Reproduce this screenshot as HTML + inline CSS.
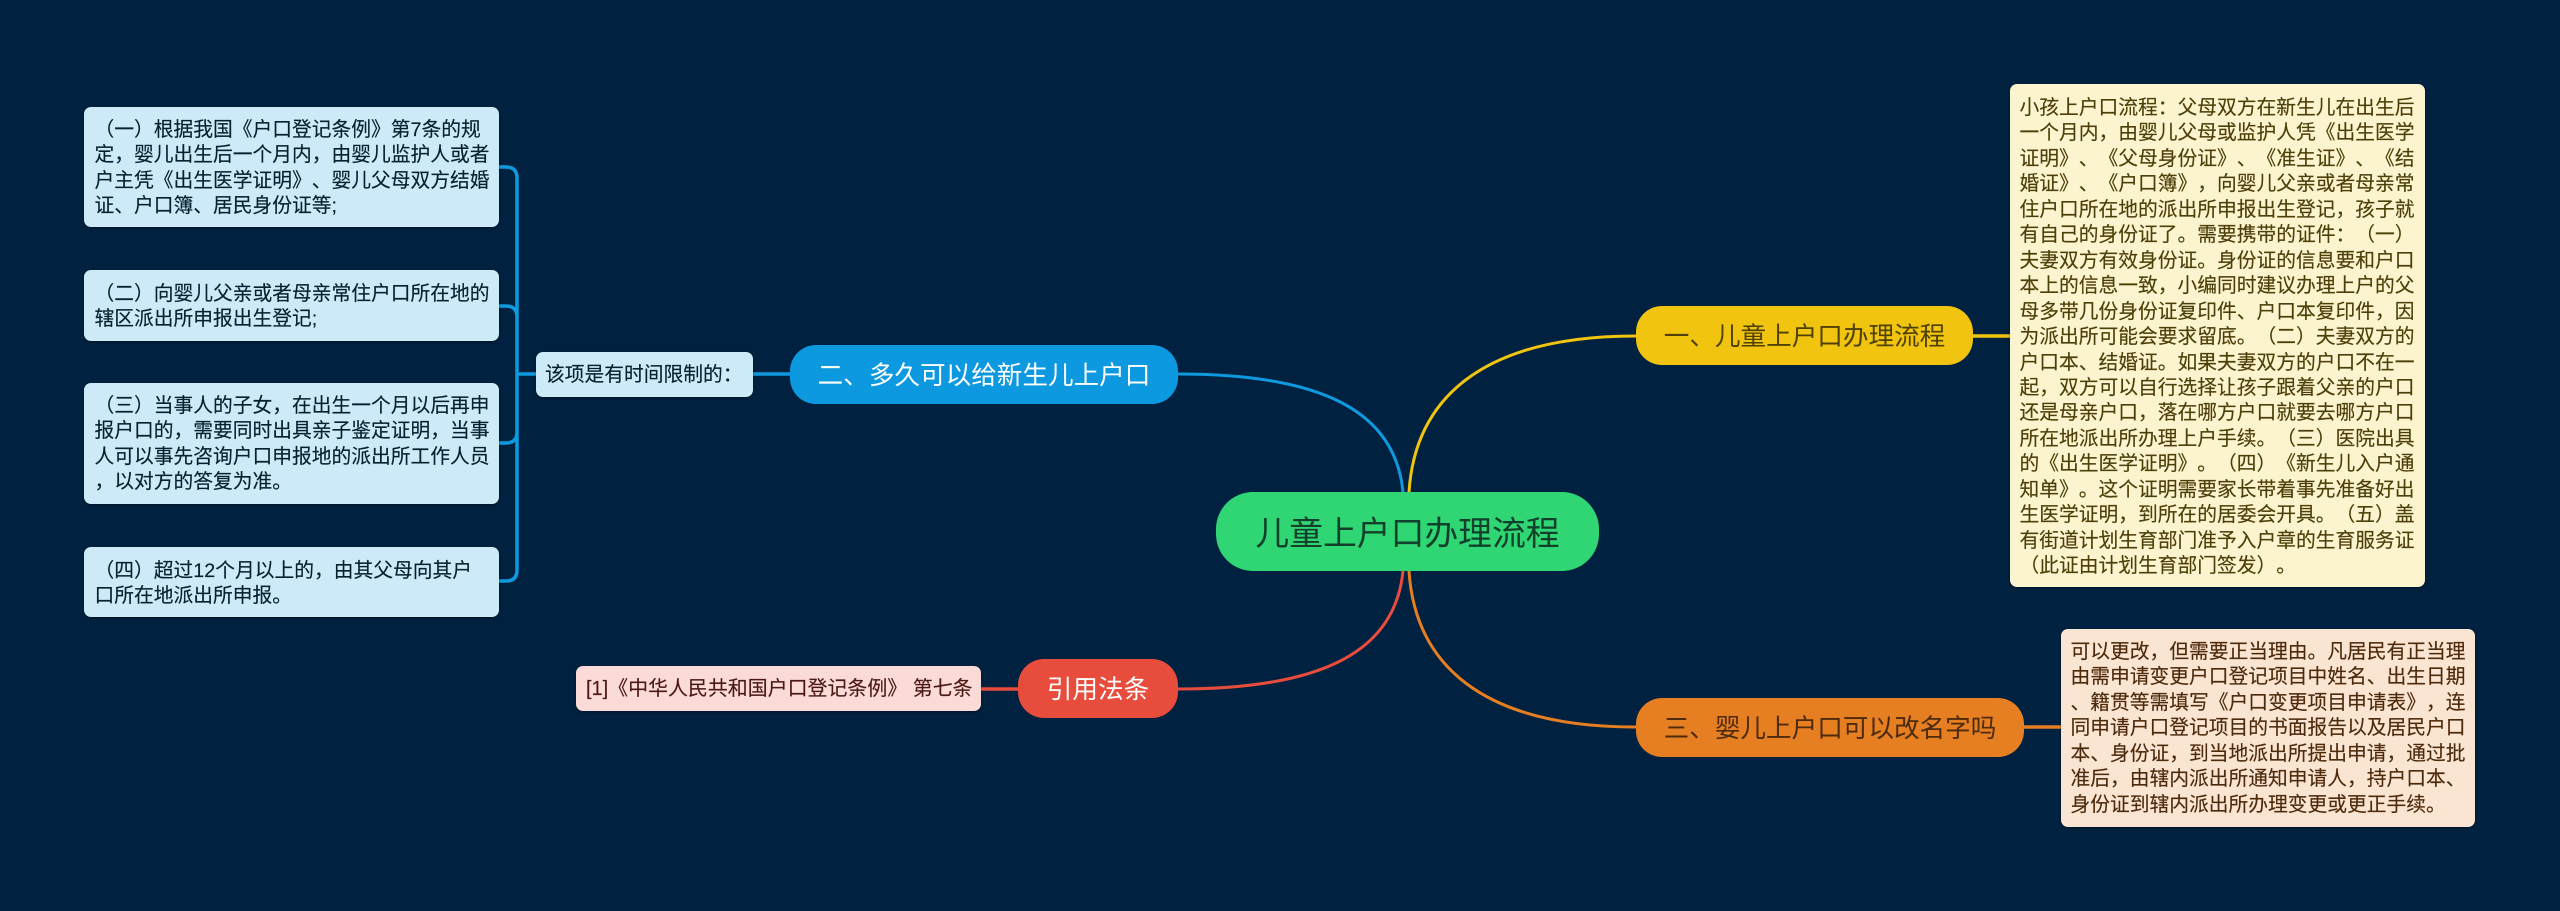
<!DOCTYPE html>
<html lang="zh-CN"><head><meta charset="utf-8"><title>儿童上户口办理流程</title>
<style>
html,body{margin:0;padding:0;background:#00213f}
body{width:2560px;height:911px;position:relative;overflow:hidden;font-family:"Liberation Sans","WenQuanYi Zen Hei","Noto Sans CJK SC",sans-serif;font-kerning:none;font-feature-settings:"chws" 0,"palt" 0,"kern" 0;text-spacing-trim:space-all}
svg{position:absolute;left:0;top:0}
.n{position:absolute;box-sizing:border-box;font-size:19.75px;line-height:25.45px;white-space:nowrap;border-radius:7px;box-shadow:0 1px 2px rgba(0,0,0,.45);-webkit-text-stroke:.15px currentColor}
.b{position:absolute;box-sizing:border-box;display:flex;align-items:center;justify-content:center;white-space:nowrap;font-size:25.6px;border-radius:26px;padding-bottom:2px}
.s{background:#cdeaf8;color:#06202f;padding:0 0 0 10.5px}
</style></head><body>
<svg width="2560" height="911" fill="none">
<g stroke="#f1c40f"><path d="M1409 492C1415 400 1480 336 1636 336" stroke-width="3"/><path d="M1973 336H2010" stroke-width="3.5"/></g>
<g stroke="#e67e22"><path d="M1409 571C1415 663 1480 727 1636 727" stroke-width="3"/><path d="M2024 727H2061" stroke-width="3.5"/></g>
<g stroke="#0f9ae0"><path d="M1178 374C1320 374 1395 410 1403 492" stroke-width="3"/><path d="M536 374H517M752 374H790" stroke-width="3.5"/>
<path d="M499 167H506Q517 167 517 178V570Q517 581 506 581H499M499 306H506Q517 306 517 317M499 443H506Q517 443 517 432" stroke-width="3.5"/></g>
<g stroke="#e74c3c"><path d="M1178 689C1320 689 1395 653 1403 571" stroke-width="3"/><path d="M981 689H1018" stroke-width="3.5"/></g>
</svg>

<div class="b" style="left:1216px;top:492px;width:383px;height:79px;border-radius:37px;background:#2fd673;color:#12402a;font-size:33.8px">儿童上户口办理流程</div>
<div class="b" style="left:1636px;top:306px;width:337px;height:59px;background:#f1c40f;color:#4f4105">一、儿童上户口办理流程</div>
<div class="b" style="left:1636px;top:698px;width:388px;height:59px;background:#e67e22;color:#4d2a0b">三、婴儿上户口可以改名字吗</div>
<div class="b" style="left:790px;top:345px;width:388px;height:59px;background:#0c99e0;color:#fff">二、多久可以给新生儿上户口</div>
<div class="b" style="left:1018px;top:659px;width:160px;height:59px;background:#e74c3c;color:#fff">引用法条</div>

<div class="n s" style="left:536px;top:352px;width:217px;height:45px;line-height:47px;padding-left:9px">该项是有时间限制的：</div>
<div class="n" style="left:576px;top:666px;width:405px;height:45px;line-height:47px;padding-left:10px;font-size:19.95px;background:#fadbd8;color:#4d1914">[1]《中华人民共和国户口登记条例》 第七条</div>

<div class="n s" style="left:84px;top:107px;width:415px;height:120px;padding-top:11px">（一）根据我国《户口登记条例》第7条的规<br>定，婴儿出生后一个月内，由婴儿监护人或者<br>户主凭《出生医学证明》、婴儿父母双方结婚<br>证、户口簿、居民身份证等;</div>
<div class="n s" style="left:84px;top:270px;width:415px;height:71px;padding-top:12px">（二）向婴儿父亲或者母亲常住户口所在地的<br>辖区派出所申报出生登记;</div>
<div class="n s" style="left:84px;top:383px;width:415px;height:121px;padding-top:11px">（三）当事人的子女，在出生一个月以后再申<br>报户口的，需要同时出具亲子鉴定证明，当事<br>人可以事先咨询户口申报地的派出所工作人员<br>，以对方的答复为准。</div>
<div class="n s" style="left:84px;top:547px;width:415px;height:70px;padding-top:12px">（四）超过12个月以上的，由其父母向其户<br>口所在地派出所申报。</div>

<div class="n" style="left:2010px;top:84px;width:415px;height:503px;padding:12px 0 0 9.5px;background:#fcf3cf;color:#4d3f08">小孩上户口流程：父母双方在新生儿在出生后<br>一个月内，由婴儿父母或监护人凭《出生医学<br>证明》、《父母身份证》、《准生证》、《结<br>婚证》、《户口簿》，向婴儿父亲或者母亲常<br>住户口所在地的派出所申报出生登记，孩子就<br>有自己的身份证了。需要携带的证件：（一）<br>夫妻双方有效身份证。身份证的信息要和户口<br>本上的信息一致，小编同时建议办理上户的父<br>母多带几份身份证复印件、户口本复印件，因<br>为派出所可能会要求留底。（二）夫妻双方的<br>户口本、结婚证。如果夫妻双方的户口不在一<br>起，双方可以自行选择让孩子跟着父亲的户口<br>还是母亲户口，落在哪方户口就要去哪方户口<br>所在地派出所办理上户手续。（三）医院出具<br>的《出生医学证明》。（四）《新生儿入户通<br>知单》。这个证明需要家长带着事先准备好出<br>生医学证明，到所在的居委会开具。（五）盖<br>有街道计划生育部门准予入户章的生育服务证<br>（此证由计划生育部门签发）。</div>

<div class="n" style="left:2061px;top:629px;width:414px;height:198px;padding:11px 0 0 9.5px;background:#fae5d3;color:#4d2a0b">可以更改，但需要正当理由。凡居民有正当理<br>由需申请变更户口登记项目中姓名、出生日期<br>、籍贯等需填写《户口变更项目申请表》，连<br>同申请户口登记项目的书面报告以及居民户口<br>本、身份证，到当地派出所提出申请，通过批<br>准后，由辖内派出所通知申请人，持户口本、<br>身份证到辖内派出所办理变更或更正手续。</div>
</body></html>
